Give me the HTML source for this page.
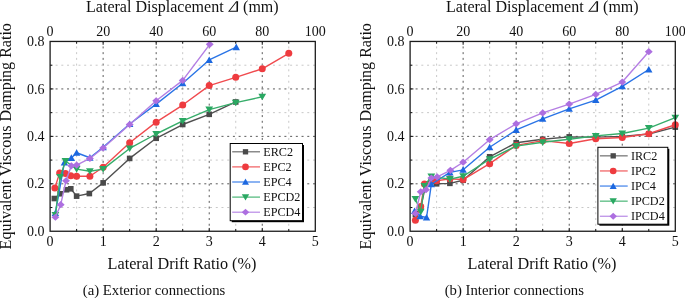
<!DOCTYPE html>
<html><head><meta charset="utf-8"><style>
html,body{margin:0;padding:0;background:#fff;width:685px;height:298px;overflow:hidden}
svg{display:block;will-change:transform}
text{font-family:"Liberation Serif",serif;fill:#111}
.tl{font-size:14px}
.al{font-size:16px}
.cap{font-size:14.75px}
.lg{font-size:12.2px}
.gM{stroke:#5a5a5a;stroke-width:1;stroke-dasharray:2 3.72;stroke-dashoffset:0.22}
.gm{stroke:#c8c8c8;stroke-width:1;stroke-dasharray:2 3.72;stroke-dashoffset:0.22}
.tk{stroke:#111;stroke-width:1}
</style></head><body>
<svg width="685" height="298" viewBox="0 0 685 298">
<rect width="685" height="298" fill="#fff"/>
<line x1="76.62" y1="231.25" x2="76.62" y2="41.45" class="gm"/>
<line x1="103.14" y1="231.25" x2="103.14" y2="41.45" class="gM"/>
<line x1="129.66" y1="231.25" x2="129.66" y2="41.45" class="gm"/>
<line x1="156.18" y1="231.25" x2="156.18" y2="41.45" class="gM"/>
<line x1="182.7" y1="231.25" x2="182.7" y2="41.45" class="gm"/>
<line x1="209.22" y1="231.25" x2="209.22" y2="41.45" class="gM"/>
<line x1="235.74" y1="231.25" x2="235.74" y2="41.45" class="gm"/>
<line x1="262.26" y1="231.25" x2="262.26" y2="41.45" class="gM"/>
<line x1="288.78" y1="231.25" x2="288.78" y2="41.45" class="gm"/>
<line x1="50.1" y1="207.53" x2="315.3" y2="207.53" class="gm"/>
<line x1="50.1" y1="183.81" x2="315.3" y2="183.81" class="gM"/>
<line x1="50.1" y1="160.09" x2="315.3" y2="160.09" class="gm"/>
<line x1="50.1" y1="136.37" x2="315.3" y2="136.37" class="gM"/>
<line x1="50.1" y1="112.65" x2="315.3" y2="112.65" class="gm"/>
<line x1="50.1" y1="88.93" x2="315.3" y2="88.93" class="gM"/>
<line x1="50.1" y1="65.21" x2="315.3" y2="65.21" class="gm"/>
<line x1="76.62" y1="231.25" x2="76.62" y2="228.95" class="tk"/>
<line x1="76.62" y1="41.45" x2="76.62" y2="43.75" class="tk"/>
<line x1="103.14" y1="231.25" x2="103.14" y2="227.95" class="tk"/>
<line x1="103.14" y1="41.45" x2="103.14" y2="44.75" class="tk"/>
<line x1="129.66" y1="231.25" x2="129.66" y2="228.95" class="tk"/>
<line x1="129.66" y1="41.45" x2="129.66" y2="43.75" class="tk"/>
<line x1="156.18" y1="231.25" x2="156.18" y2="227.95" class="tk"/>
<line x1="156.18" y1="41.45" x2="156.18" y2="44.75" class="tk"/>
<line x1="182.7" y1="231.25" x2="182.7" y2="228.95" class="tk"/>
<line x1="182.7" y1="41.45" x2="182.7" y2="43.75" class="tk"/>
<line x1="209.22" y1="231.25" x2="209.22" y2="227.95" class="tk"/>
<line x1="209.22" y1="41.45" x2="209.22" y2="44.75" class="tk"/>
<line x1="235.74" y1="231.25" x2="235.74" y2="228.95" class="tk"/>
<line x1="235.74" y1="41.45" x2="235.74" y2="43.75" class="tk"/>
<line x1="262.26" y1="231.25" x2="262.26" y2="227.95" class="tk"/>
<line x1="262.26" y1="41.45" x2="262.26" y2="44.75" class="tk"/>
<line x1="288.78" y1="231.25" x2="288.78" y2="228.95" class="tk"/>
<line x1="288.78" y1="41.45" x2="288.78" y2="43.75" class="tk"/>
<line x1="50.1" y1="207.53" x2="52.4" y2="207.53" class="tk"/>
<line x1="50.1" y1="183.81" x2="53.4" y2="183.81" class="tk"/>
<line x1="50.1" y1="160.09" x2="52.4" y2="160.09" class="tk"/>
<line x1="50.1" y1="136.37" x2="53.4" y2="136.37" class="tk"/>
<line x1="50.1" y1="112.65" x2="52.4" y2="112.65" class="tk"/>
<line x1="50.1" y1="88.93" x2="53.4" y2="88.93" class="tk"/>
<line x1="50.1" y1="65.21" x2="52.4" y2="65.21" class="tk"/>
<polyline points="54.34,198.52 60.18,193.77 66.54,189.74 70.79,188.79 76.62,196.14 89.35,193.54 103.14,182.86 129.66,158.43 156.18,138.27 182.7,124.51 209.22,114.31 235.74,101.98" fill="none" stroke="#505050" stroke-width="1.4" stroke-linejoin="round"/>
<rect x="51.54" y="195.72" width="5.6" height="5.6" fill="#4a4a4a"/>
<rect x="57.38" y="190.97" width="5.6" height="5.6" fill="#4a4a4a"/>
<rect x="63.74" y="186.94" width="5.6" height="5.6" fill="#4a4a4a"/>
<rect x="67.99" y="185.99" width="5.6" height="5.6" fill="#4a4a4a"/>
<rect x="73.82" y="193.34" width="5.6" height="5.6" fill="#4a4a4a"/>
<rect x="86.55" y="190.74" width="5.6" height="5.6" fill="#4a4a4a"/>
<rect x="100.34" y="180.06" width="5.6" height="5.6" fill="#4a4a4a"/>
<rect x="126.86" y="155.63" width="5.6" height="5.6" fill="#4a4a4a"/>
<rect x="153.38" y="135.47" width="5.6" height="5.6" fill="#4a4a4a"/>
<rect x="179.9" y="121.71" width="5.6" height="5.6" fill="#4a4a4a"/>
<rect x="206.42" y="111.51" width="5.6" height="5.6" fill="#4a4a4a"/>
<rect x="232.94" y="99.18" width="5.6" height="5.6" fill="#4a4a4a"/>
<polyline points="54.87,188.08 59.65,172.9 65.48,173.61 70.79,175.75 76.62,176.22 89.88,176.22 103.14,167.21 129.66,142.77 156.18,122.14 182.7,105.06 209.22,85.61 235.74,77.31 262.26,68.77 288.78,53.35" fill="none" stroke="#f04a4e" stroke-width="1.4" stroke-linejoin="round"/>
<circle cx="54.87" cy="188.08" r="3.5" fill="#ee3b3f"/>
<circle cx="59.65" cy="172.9" r="3.5" fill="#ee3b3f"/>
<circle cx="65.48" cy="173.61" r="3.5" fill="#ee3b3f"/>
<circle cx="70.79" cy="175.75" r="3.5" fill="#ee3b3f"/>
<circle cx="76.62" cy="176.22" r="3.5" fill="#ee3b3f"/>
<circle cx="89.88" cy="176.22" r="3.5" fill="#ee3b3f"/>
<circle cx="103.14" cy="167.21" r="3.5" fill="#ee3b3f"/>
<circle cx="129.66" cy="142.77" r="3.5" fill="#ee3b3f"/>
<circle cx="156.18" cy="122.14" r="3.5" fill="#ee3b3f"/>
<circle cx="182.7" cy="105.06" r="3.5" fill="#ee3b3f"/>
<circle cx="209.22" cy="85.61" r="3.5" fill="#ee3b3f"/>
<circle cx="235.74" cy="77.31" r="3.5" fill="#ee3b3f"/>
<circle cx="262.26" cy="68.77" r="3.5" fill="#ee3b3f"/>
<circle cx="288.78" cy="53.35" r="3.5" fill="#ee3b3f"/>
<polyline points="55.4,212.99 64.42,162.46 71.32,157.96 76.62,152.74 89.88,157.72 103.14,147.28 129.66,124.04 156.18,104.11 182.7,83.24 209.22,59.99 236.27,47.18" fill="none" stroke="#2a74e6" stroke-width="1.4" stroke-linejoin="round"/>
<path d="M55.4 209.39L59.1 215.99L51.7 215.99Z" fill="#1c68e0"/>
<path d="M64.42 158.86L68.12 165.46L60.72 165.46Z" fill="#1c68e0"/>
<path d="M71.32 154.36L75.02 160.96L67.62 160.96Z" fill="#1c68e0"/>
<path d="M76.62 149.14L80.32 155.74L72.92 155.74Z" fill="#1c68e0"/>
<path d="M89.88 154.12L93.58 160.72L86.18 160.72Z" fill="#1c68e0"/>
<path d="M103.14 143.68L106.84 150.28L99.44 150.28Z" fill="#1c68e0"/>
<path d="M129.66 120.44L133.36 127.04L125.96 127.04Z" fill="#1c68e0"/>
<path d="M156.18 100.51L159.88 107.11L152.48 107.11Z" fill="#1c68e0"/>
<path d="M182.7 79.64L186.4 86.24L179 86.24Z" fill="#1c68e0"/>
<path d="M209.22 56.39L212.92 62.99L205.52 62.99Z" fill="#1c68e0"/>
<path d="M236.27 43.58L239.97 50.18L232.57 50.18Z" fill="#1c68e0"/>
<polyline points="55.4,214.88 60.18,176.93 65.48,161.04 76.62,169.1 89.88,171.24 103.14,169.1 129.66,148.47 156.18,134 182.7,120.95 209.22,109.57 235.74,102.69 262.26,96.76" fill="none" stroke="#36ad6a" stroke-width="1.4" stroke-linejoin="round"/>
<path d="M55.4 218.48L59.3 211.88L51.5 211.88Z" fill="#2aa862"/>
<path d="M60.18 180.53L64.08 173.93L56.28 173.93Z" fill="#2aa862"/>
<path d="M65.48 164.64L69.38 158.04L61.58 158.04Z" fill="#2aa862"/>
<path d="M76.62 172.7L80.52 166.1L72.72 166.1Z" fill="#2aa862"/>
<path d="M89.88 174.84L93.78 168.24L85.98 168.24Z" fill="#2aa862"/>
<path d="M103.14 172.7L107.04 166.1L99.24 166.1Z" fill="#2aa862"/>
<path d="M129.66 152.07L133.56 145.47L125.76 145.47Z" fill="#2aa862"/>
<path d="M156.18 137.6L160.08 131L152.28 131Z" fill="#2aa862"/>
<path d="M182.7 124.55L186.6 117.95L178.8 117.95Z" fill="#2aa862"/>
<path d="M209.22 113.17L213.12 106.57L205.32 106.57Z" fill="#2aa862"/>
<path d="M235.74 106.29L239.64 99.69L231.84 99.69Z" fill="#2aa862"/>
<path d="M262.26 100.36L266.16 93.76L258.36 93.76Z" fill="#2aa862"/>
<polyline points="55.4,217.26 60.71,204.68 66.01,180.73 71.32,165.78 76.62,165.07 89.88,158.43 103.14,147.99 129.66,124.51 156.18,100.79 182.7,80.39 209.75,44.34" fill="none" stroke="#b47ee3" stroke-width="1.4" stroke-linejoin="round"/>
<path d="M55.4 213.66L59.35 217.26L55.4 220.86L51.45 217.26Z" fill="#ad6fe0"/>
<path d="M60.71 201.08L64.66 204.68L60.71 208.28L56.76 204.68Z" fill="#ad6fe0"/>
<path d="M66.01 177.13L69.96 180.73L66.01 184.33L62.06 180.73Z" fill="#ad6fe0"/>
<path d="M71.32 162.18L75.27 165.78L71.32 169.38L67.37 165.78Z" fill="#ad6fe0"/>
<path d="M76.62 161.47L80.57 165.07L76.62 168.67L72.67 165.07Z" fill="#ad6fe0"/>
<path d="M89.88 154.83L93.83 158.43L89.88 162.03L85.93 158.43Z" fill="#ad6fe0"/>
<path d="M103.14 144.39L107.09 147.99L103.14 151.59L99.19 147.99Z" fill="#ad6fe0"/>
<path d="M129.66 120.91L133.61 124.51L129.66 128.11L125.71 124.51Z" fill="#ad6fe0"/>
<path d="M156.18 97.19L160.13 100.79L156.18 104.39L152.23 100.79Z" fill="#ad6fe0"/>
<path d="M182.7 76.79L186.65 80.39L182.7 83.99L178.75 80.39Z" fill="#ad6fe0"/>
<path d="M209.75 40.74L213.7 44.34L209.75 47.94L205.8 44.34Z" fill="#ad6fe0"/>
<rect x="50.1" y="41.45" width="265.2" height="189.8" fill="none" stroke="#1c1c1c" stroke-width="1.3"/>
<rect x="231.7" y="145" width="72.3" height="77.2" fill="#000"/>
<rect x="230.2" y="143.5" width="72.3" height="77.2" fill="#fff" stroke="#000" stroke-width="1"/>
<line x1="232.2" y1="151.8" x2="260" y2="151.8" stroke="#6e6e6e" stroke-width="1.2"/>
<rect x="242.84" y="149.14" width="5.32" height="5.32" fill="#4a4a4a"/>
<text x="263.2" y="156" class="lg">ERC2</text>
<line x1="232.2" y1="166.9" x2="260" y2="166.9" stroke="#f05a5c" stroke-width="1.2"/>
<circle cx="245.5" cy="166.9" r="3.32" fill="#ee3b3f"/>
<text x="263.2" y="171.1" class="lg">EPC2</text>
<line x1="232.2" y1="182" x2="260" y2="182" stroke="#3f80ea" stroke-width="1.2"/>
<path d="M245.5 178.58L249.01 184.85L241.99 184.85Z" fill="#1c68e0"/>
<text x="263.2" y="186.2" class="lg">EPC4</text>
<line x1="232.2" y1="197.1" x2="260" y2="197.1" stroke="#4ab676" stroke-width="1.2"/>
<path d="M245.5 200.52L249.21 194.25L241.79 194.25Z" fill="#2aa862"/>
<text x="263.2" y="201.3" class="lg">EPCD2</text>
<line x1="232.2" y1="212.2" x2="260" y2="212.2" stroke="#b889e6" stroke-width="1.2"/>
<path d="M245.5 208.78L249.25 212.2L245.5 215.62L241.75 212.2Z" fill="#ad6fe0"/>
<text x="263.2" y="216.4" class="lg">EPCD4</text>
<text x="50.1" y="246" class="tl" text-anchor="middle">0</text>
<text x="50.1" y="35.5" class="tl" text-anchor="middle">0</text>
<text x="103.14" y="246" class="tl" text-anchor="middle">1</text>
<text x="103.14" y="35.5" class="tl" text-anchor="middle">20</text>
<text x="156.18" y="246" class="tl" text-anchor="middle">2</text>
<text x="156.18" y="35.5" class="tl" text-anchor="middle">40</text>
<text x="209.22" y="246" class="tl" text-anchor="middle">3</text>
<text x="209.22" y="35.5" class="tl" text-anchor="middle">60</text>
<text x="262.26" y="246" class="tl" text-anchor="middle">4</text>
<text x="262.26" y="35.5" class="tl" text-anchor="middle">80</text>
<text x="315.3" y="246" class="tl" text-anchor="middle">5</text>
<text x="315.3" y="35.5" class="tl" text-anchor="middle">100</text>
<text x="44.6" y="236" class="tl" text-anchor="end">0.0</text>
<text x="44.6" y="188" class="tl" text-anchor="end">0.2</text>
<text x="44.6" y="141" class="tl" text-anchor="end">0.4</text>
<text x="44.6" y="94" class="tl" text-anchor="end">0.6</text>
<text x="44.6" y="46" class="tl" text-anchor="end">0.8</text>
<text x="86" y="11.9" class="al" style="font-size:16.06px">Lateral Displacement</text>
<path fill-rule="evenodd" fill="#111" d="M228 11.75L236.2 1.2L238.1 1.2L238 11.75ZM229.9 10.65L236.5 2.2L236.5 10.65Z"/>
<text x="243.1" y="11.9" class="al">(mm)</text>
<text x="182" y="269.4" class="al" text-anchor="middle" style="font-size:16.2px">Lateral Drift Ratio (%)</text>
<text transform="translate(11.1,136.25) rotate(-90)" class="al" text-anchor="middle" style="font-size:16.05px">Equivalent Viscous Damping Ratio</text>
<text x="154" y="294.6" class="cap" text-anchor="middle">(a) Exterior connections</text>
<line x1="436.62" y1="231.25" x2="436.62" y2="41.45" class="gm"/>
<line x1="463.14" y1="231.25" x2="463.14" y2="41.45" class="gM"/>
<line x1="489.66" y1="231.25" x2="489.66" y2="41.45" class="gm"/>
<line x1="516.18" y1="231.25" x2="516.18" y2="41.45" class="gM"/>
<line x1="542.7" y1="231.25" x2="542.7" y2="41.45" class="gm"/>
<line x1="569.22" y1="231.25" x2="569.22" y2="41.45" class="gM"/>
<line x1="595.74" y1="231.25" x2="595.74" y2="41.45" class="gm"/>
<line x1="622.26" y1="231.25" x2="622.26" y2="41.45" class="gM"/>
<line x1="648.78" y1="231.25" x2="648.78" y2="41.45" class="gm"/>
<line x1="410.1" y1="207.53" x2="675.3" y2="207.53" class="gm"/>
<line x1="410.1" y1="183.81" x2="675.3" y2="183.81" class="gM"/>
<line x1="410.1" y1="160.09" x2="675.3" y2="160.09" class="gm"/>
<line x1="410.1" y1="136.37" x2="675.3" y2="136.37" class="gM"/>
<line x1="410.1" y1="112.65" x2="675.3" y2="112.65" class="gm"/>
<line x1="410.1" y1="88.93" x2="675.3" y2="88.93" class="gM"/>
<line x1="410.1" y1="65.21" x2="675.3" y2="65.21" class="gm"/>
<line x1="436.62" y1="231.25" x2="436.62" y2="228.95" class="tk"/>
<line x1="436.62" y1="41.45" x2="436.62" y2="43.75" class="tk"/>
<line x1="463.14" y1="231.25" x2="463.14" y2="227.95" class="tk"/>
<line x1="463.14" y1="41.45" x2="463.14" y2="44.75" class="tk"/>
<line x1="489.66" y1="231.25" x2="489.66" y2="228.95" class="tk"/>
<line x1="489.66" y1="41.45" x2="489.66" y2="43.75" class="tk"/>
<line x1="516.18" y1="231.25" x2="516.18" y2="227.95" class="tk"/>
<line x1="516.18" y1="41.45" x2="516.18" y2="44.75" class="tk"/>
<line x1="542.7" y1="231.25" x2="542.7" y2="228.95" class="tk"/>
<line x1="542.7" y1="41.45" x2="542.7" y2="43.75" class="tk"/>
<line x1="569.22" y1="231.25" x2="569.22" y2="227.95" class="tk"/>
<line x1="569.22" y1="41.45" x2="569.22" y2="44.75" class="tk"/>
<line x1="595.74" y1="231.25" x2="595.74" y2="228.95" class="tk"/>
<line x1="595.74" y1="41.45" x2="595.74" y2="43.75" class="tk"/>
<line x1="622.26" y1="231.25" x2="622.26" y2="227.95" class="tk"/>
<line x1="622.26" y1="41.45" x2="622.26" y2="44.75" class="tk"/>
<line x1="648.78" y1="231.25" x2="648.78" y2="228.95" class="tk"/>
<line x1="648.78" y1="41.45" x2="648.78" y2="43.75" class="tk"/>
<line x1="410.1" y1="207.53" x2="412.4" y2="207.53" class="tk"/>
<line x1="410.1" y1="183.81" x2="413.4" y2="183.81" class="tk"/>
<line x1="410.1" y1="160.09" x2="412.4" y2="160.09" class="tk"/>
<line x1="410.1" y1="136.37" x2="413.4" y2="136.37" class="tk"/>
<line x1="410.1" y1="112.65" x2="412.4" y2="112.65" class="tk"/>
<line x1="410.1" y1="88.93" x2="413.4" y2="88.93" class="tk"/>
<line x1="410.1" y1="65.21" x2="412.4" y2="65.21" class="tk"/>
<polyline points="415.4,214.65 420.71,207.53 426.01,183.81 431.32,181.44 436.62,183.81 449.88,183.34 463.14,180.25 489.66,156.77 516.18,142.77 542.7,139.22 569.22,136.84 595.74,137.08 622.26,136.37 648.78,134 675.3,127.12" fill="none" stroke="#505050" stroke-width="1.4" stroke-linejoin="round"/>
<rect x="412.6" y="211.85" width="5.6" height="5.6" fill="#4a4a4a"/>
<rect x="417.91" y="204.73" width="5.6" height="5.6" fill="#4a4a4a"/>
<rect x="423.21" y="181.01" width="5.6" height="5.6" fill="#4a4a4a"/>
<rect x="428.52" y="178.64" width="5.6" height="5.6" fill="#4a4a4a"/>
<rect x="433.82" y="181.01" width="5.6" height="5.6" fill="#4a4a4a"/>
<rect x="447.08" y="180.54" width="5.6" height="5.6" fill="#4a4a4a"/>
<rect x="460.34" y="177.45" width="5.6" height="5.6" fill="#4a4a4a"/>
<rect x="486.86" y="153.97" width="5.6" height="5.6" fill="#4a4a4a"/>
<rect x="513.38" y="139.97" width="5.6" height="5.6" fill="#4a4a4a"/>
<rect x="539.9" y="136.42" width="5.6" height="5.6" fill="#4a4a4a"/>
<rect x="566.42" y="134.04" width="5.6" height="5.6" fill="#4a4a4a"/>
<rect x="592.94" y="134.28" width="5.6" height="5.6" fill="#4a4a4a"/>
<rect x="619.46" y="133.57" width="5.6" height="5.6" fill="#4a4a4a"/>
<rect x="645.98" y="131.2" width="5.6" height="5.6" fill="#4a4a4a"/>
<rect x="672.5" y="124.32" width="5.6" height="5.6" fill="#4a4a4a"/>
<polyline points="415.4,220.34 420.71,206.58 424.42,184.05 436.62,180.73 449.88,178.83 463.14,179.54 489.66,163.65 516.18,145.38 542.7,140.64 569.22,143.49 595.74,138.74 622.26,137.56 648.78,133.76 675.3,124.75" fill="none" stroke="#f04a4e" stroke-width="1.4" stroke-linejoin="round"/>
<circle cx="415.4" cy="220.34" r="3.5" fill="#ee3b3f"/>
<circle cx="420.71" cy="206.58" r="3.5" fill="#ee3b3f"/>
<circle cx="424.42" cy="184.05" r="3.5" fill="#ee3b3f"/>
<circle cx="436.62" cy="180.73" r="3.5" fill="#ee3b3f"/>
<circle cx="449.88" cy="178.83" r="3.5" fill="#ee3b3f"/>
<circle cx="463.14" cy="179.54" r="3.5" fill="#ee3b3f"/>
<circle cx="489.66" cy="163.65" r="3.5" fill="#ee3b3f"/>
<circle cx="516.18" cy="145.38" r="3.5" fill="#ee3b3f"/>
<circle cx="542.7" cy="140.64" r="3.5" fill="#ee3b3f"/>
<circle cx="569.22" cy="143.49" r="3.5" fill="#ee3b3f"/>
<circle cx="595.74" cy="138.74" r="3.5" fill="#ee3b3f"/>
<circle cx="622.26" cy="137.56" r="3.5" fill="#ee3b3f"/>
<circle cx="648.78" cy="133.76" r="3.5" fill="#ee3b3f"/>
<circle cx="675.3" cy="124.75" r="3.5" fill="#ee3b3f"/>
<polyline points="414.61,211.09 420.18,216.31 426.54,217.49 431.32,184.28 449.88,172.42 463.14,169.82 489.66,147.28 516.18,129.97 542.7,118.82 569.22,108.85 595.74,100.08 622.26,86.32 648.78,69.48" fill="none" stroke="#2a74e6" stroke-width="1.4" stroke-linejoin="round"/>
<path d="M414.61 207.49L418.31 214.09L410.91 214.09Z" fill="#1c68e0"/>
<path d="M420.18 212.71L423.88 219.31L416.48 219.31Z" fill="#1c68e0"/>
<path d="M426.54 213.89L430.24 220.49L422.84 220.49Z" fill="#1c68e0"/>
<path d="M431.32 180.68L435.02 187.28L427.62 187.28Z" fill="#1c68e0"/>
<path d="M449.88 168.82L453.58 175.42L446.18 175.42Z" fill="#1c68e0"/>
<path d="M463.14 166.22L466.84 172.82L459.44 172.82Z" fill="#1c68e0"/>
<path d="M489.66 143.68L493.36 150.28L485.96 150.28Z" fill="#1c68e0"/>
<path d="M516.18 126.37L519.88 132.97L512.48 132.97Z" fill="#1c68e0"/>
<path d="M542.7 115.22L546.4 121.82L539 121.82Z" fill="#1c68e0"/>
<path d="M569.22 105.25L572.92 111.85L565.52 111.85Z" fill="#1c68e0"/>
<path d="M595.74 96.48L599.44 103.08L592.04 103.08Z" fill="#1c68e0"/>
<path d="M622.26 82.72L625.96 89.32L618.56 89.32Z" fill="#1c68e0"/>
<path d="M648.78 65.88L652.48 72.48L645.08 72.48Z" fill="#1c68e0"/>
<polyline points="415.4,198.99 420.71,211.8 424.42,185.94 431.32,176.46 449.88,179.07 463.14,176.22 489.66,159.14 516.18,146.1 542.7,142.3 569.22,139.22 595.74,135.9 622.26,133.52 648.78,128.07 675.3,117.63" fill="none" stroke="#36ad6a" stroke-width="1.4" stroke-linejoin="round"/>
<path d="M415.4 202.59L419.3 195.99L411.5 195.99Z" fill="#2aa862"/>
<path d="M420.71 215.4L424.61 208.8L416.81 208.8Z" fill="#2aa862"/>
<path d="M424.42 189.54L428.32 182.94L420.52 182.94Z" fill="#2aa862"/>
<path d="M431.32 180.06L435.22 173.46L427.42 173.46Z" fill="#2aa862"/>
<path d="M449.88 182.67L453.78 176.07L445.98 176.07Z" fill="#2aa862"/>
<path d="M463.14 179.82L467.04 173.22L459.24 173.22Z" fill="#2aa862"/>
<path d="M489.66 162.74L493.56 156.14L485.76 156.14Z" fill="#2aa862"/>
<path d="M516.18 149.7L520.08 143.1L512.28 143.1Z" fill="#2aa862"/>
<path d="M542.7 145.9L546.6 139.3L538.8 139.3Z" fill="#2aa862"/>
<path d="M569.22 142.82L573.12 136.22L565.32 136.22Z" fill="#2aa862"/>
<path d="M595.74 139.5L599.64 132.9L591.84 132.9Z" fill="#2aa862"/>
<path d="M622.26 137.12L626.16 130.52L618.36 130.52Z" fill="#2aa862"/>
<path d="M648.78 131.67L652.68 125.07L644.88 125.07Z" fill="#2aa862"/>
<path d="M675.3 121.23L679.2 114.63L671.4 114.63Z" fill="#2aa862"/>
<polyline points="415.4,213.46 420.71,191.87 426.01,189.74 431.32,178.12 437.15,176.93 450.41,170.29 463.14,162.22 489.66,139.69 516.18,123.8 542.7,112.89 569.22,104.11 595.74,94.39 622.26,82.05 648.78,51.69" fill="none" stroke="#b47ee3" stroke-width="1.4" stroke-linejoin="round"/>
<path d="M415.4 209.86L419.35 213.46L415.4 217.06L411.45 213.46Z" fill="#ad6fe0"/>
<path d="M420.71 188.27L424.66 191.87L420.71 195.47L416.76 191.87Z" fill="#ad6fe0"/>
<path d="M426.01 186.14L429.96 189.74L426.01 193.34L422.06 189.74Z" fill="#ad6fe0"/>
<path d="M431.32 174.52L435.27 178.12L431.32 181.72L427.37 178.12Z" fill="#ad6fe0"/>
<path d="M437.15 173.33L441.1 176.93L437.15 180.53L433.2 176.93Z" fill="#ad6fe0"/>
<path d="M450.41 166.69L454.36 170.29L450.41 173.89L446.46 170.29Z" fill="#ad6fe0"/>
<path d="M463.14 158.62L467.09 162.22L463.14 165.82L459.19 162.22Z" fill="#ad6fe0"/>
<path d="M489.66 136.09L493.61 139.69L489.66 143.29L485.71 139.69Z" fill="#ad6fe0"/>
<path d="M516.18 120.2L520.13 123.8L516.18 127.4L512.23 123.8Z" fill="#ad6fe0"/>
<path d="M542.7 109.29L546.65 112.89L542.7 116.49L538.75 112.89Z" fill="#ad6fe0"/>
<path d="M569.22 100.51L573.17 104.11L569.22 107.71L565.27 104.11Z" fill="#ad6fe0"/>
<path d="M595.74 90.79L599.69 94.39L595.74 97.99L591.79 94.39Z" fill="#ad6fe0"/>
<path d="M622.26 78.45L626.21 82.05L622.26 85.65L618.31 82.05Z" fill="#ad6fe0"/>
<path d="M648.78 48.09L652.73 51.69L648.78 55.29L644.83 51.69Z" fill="#ad6fe0"/>
<rect x="410.1" y="41.45" width="265.2" height="189.8" fill="none" stroke="#1c1c1c" stroke-width="1.3"/>
<rect x="599.4" y="148.8" width="69.9" height="76.9" fill="#000"/>
<rect x="597.9" y="147.3" width="69.9" height="76.9" fill="#fff" stroke="#000" stroke-width="1"/>
<line x1="599.9" y1="155.85" x2="627.7" y2="155.85" stroke="#6e6e6e" stroke-width="1.2"/>
<rect x="610.54" y="153.19" width="5.32" height="5.32" fill="#4a4a4a"/>
<text x="630.9" y="160.05" class="lg">IRC2</text>
<line x1="599.9" y1="170.95" x2="627.7" y2="170.95" stroke="#f05a5c" stroke-width="1.2"/>
<circle cx="613.2" cy="170.95" r="3.32" fill="#ee3b3f"/>
<text x="630.9" y="175.15" class="lg">IPC2</text>
<line x1="599.9" y1="186.05" x2="627.7" y2="186.05" stroke="#3f80ea" stroke-width="1.2"/>
<path d="M613.2 182.63L616.71 188.9L609.68 188.9Z" fill="#1c68e0"/>
<text x="630.9" y="190.25" class="lg">IPC4</text>
<line x1="599.9" y1="201.15" x2="627.7" y2="201.15" stroke="#4ab676" stroke-width="1.2"/>
<path d="M613.2 204.57L616.9 198.3L609.49 198.3Z" fill="#2aa862"/>
<text x="630.9" y="205.35" class="lg">IPCD2</text>
<line x1="599.9" y1="216.25" x2="627.7" y2="216.25" stroke="#b889e6" stroke-width="1.2"/>
<path d="M613.2 212.83L616.95 216.25L613.2 219.67L609.45 216.25Z" fill="#ad6fe0"/>
<text x="630.9" y="220.45" class="lg">IPCD4</text>
<text x="410.1" y="246" class="tl" text-anchor="middle">0</text>
<text x="410.1" y="35.5" class="tl" text-anchor="middle">0</text>
<text x="463.14" y="246" class="tl" text-anchor="middle">1</text>
<text x="463.14" y="35.5" class="tl" text-anchor="middle">20</text>
<text x="516.18" y="246" class="tl" text-anchor="middle">2</text>
<text x="516.18" y="35.5" class="tl" text-anchor="middle">40</text>
<text x="569.22" y="246" class="tl" text-anchor="middle">3</text>
<text x="569.22" y="35.5" class="tl" text-anchor="middle">60</text>
<text x="622.26" y="246" class="tl" text-anchor="middle">4</text>
<text x="622.26" y="35.5" class="tl" text-anchor="middle">80</text>
<text x="675.3" y="246" class="tl" text-anchor="middle">5</text>
<text x="675.3" y="35.5" class="tl" text-anchor="middle">100</text>
<text x="404.6" y="236" class="tl" text-anchor="end">0.0</text>
<text x="404.6" y="188" class="tl" text-anchor="end">0.2</text>
<text x="404.6" y="141" class="tl" text-anchor="end">0.4</text>
<text x="404.6" y="94" class="tl" text-anchor="end">0.6</text>
<text x="404.6" y="46" class="tl" text-anchor="end">0.8</text>
<text x="446" y="11.9" class="al" style="font-size:16.06px">Lateral Displacement</text>
<path fill-rule="evenodd" fill="#111" d="M588 11.75L596.2 1.2L598.1 1.2L598 11.75ZM589.9 10.65L596.5 2.2L596.5 10.65Z"/>
<text x="603.1" y="11.9" class="al">(mm)</text>
<text x="542" y="269.4" class="al" text-anchor="middle" style="font-size:16.2px">Lateral Drift Ratio (%)</text>
<text transform="translate(371.1,136.25) rotate(-90)" class="al" text-anchor="middle" style="font-size:16.05px">Equivalent Viscous Damping Ratio</text>
<text x="514.3" y="294.6" class="cap" text-anchor="middle">(b) Interior connections</text>
</svg>
</body></html>
